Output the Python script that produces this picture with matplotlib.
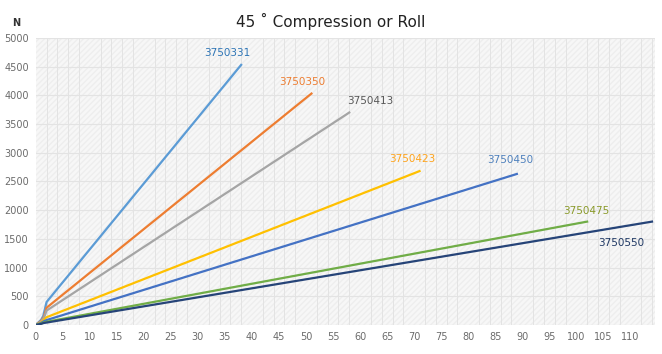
import matplotlib.pyplot as plt
from matplotlib.ticker import MultipleLocator
from matplotlib.patches import Rectangle

# displacement (mm) / force (N) points
names = ['3750331', '3750350', '3750413', '3750423', '3750450', '3750475', '3750550']
x_pts = [
    [0, 1, 1.4, 2, 38],
    [0, 1, 1.5, 2, 51],
    [0, 1, 1.5, 2, 58],
    [0, 1, 1.5, 2, 71],
    [0, 1, 1.5, 2, 89],
    [0, 1, 1.5, 2, 102],
    [0, 1, 1.5, 2, 114],
]
y_pts = [
    [0, 90, 160, 400, 4530],
    [0, 70, 140, 300, 4030],
    [0, 60, 120, 250, 3700],
    [0, 45, 90, 135, 2680],
    [0, 35, 65, 85, 2630],
    [0, 25, 45, 55, 1800],
    [0, 20, 35, 42, 1800],
]
line_colors = ['#5b9bd5', '#ed7d31', '#a5a5a5', '#ffc000', '#4472c4', '#70ad47', '#264478']
label_colors = ['#2e75b6', '#ed7d31', '#595959', '#ffa41c', '#4f81bd', '#8a9a2a', '#1f3864']
label_x = [35.4, 49.3, 61.8, 69.6, 87.8, 101.8, 108.3]
label_y = [4740, 4235, 3900, 2890, 2870, 1990, 1430]

fig = plt.figure(figsize=(6.62, 3.54), dpi=100)
ax = fig.add_axes([0.054, 0.082, 0.935, 0.811])
ax.set_facecolor('#f7f7f7')
ax.add_patch(Rectangle((0, 0), 1, 1, transform=ax.transAxes, facecolor='none',
                       edgecolor='#eeeeee', hatch='//////', lw=0, zorder=0))

for i in range(len(names)):
    ax.plot(x_pts[i], y_pts[i], color=line_colors[i], lw=1.6, zorder=3)
    ax.text(label_x[i], label_y[i], names[i], color=label_colors[i], fontsize=7.5,
            fontweight='medium', ha='center', va='center', zorder=4)

ax.set_xlim(0, 114.5)
ax.set_ylim(0, 5000)
ax.xaxis.set_minor_locator(MultipleLocator(2))
ax.yaxis.set_major_locator(MultipleLocator(500))
ax.set_xticks(range(0, 111, 5))
ax.grid(which='minor', axis='x', color='#e3e3e3', lw=0.7, zorder=1)
ax.grid(which='major', axis='y', color='#e3e3e3', lw=0.8, zorder=1)
ax.tick_params(which='both', length=0, labelsize=7, colors='#6b6b6b', pad=5)
for s in ax.spines.values():
    s.set_visible(False)

fig.text(0.5, 0.94, '45 ˚ Compression or Roll', ha='center', va='center', fontsize=11, color='#222222')
fig.text(0.024, 0.935, 'N', ha='center', va='center', fontsize=7, fontweight='bold', color='#333333')

fig.savefig('out.png', dpi=100)
